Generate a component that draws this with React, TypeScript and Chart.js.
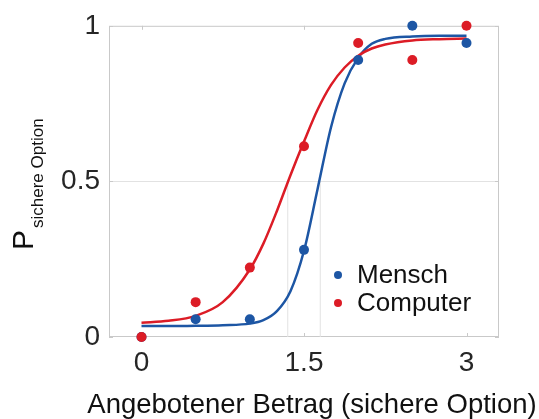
import { useEffect, useRef } from 'react';
import { Chart, registerables } from 'chart.js';

Chart.register(...registerables);

// ---- data ----
const xValues = [0, 0.5, 1, 1.5, 2, 2.5, 3];
const menschValues = [0, 0.057, 0.057, 0.28, 0.89, 1.0, 0.945];
const computerValues = [0, 0.112, 0.223, 0.613, 0.945, 0.89, 1.0];

const fitX = [0, 0.25, 0.5, 0.75, 1, 1.125, 1.25, 1.375, 1.5, 1.625, 1.75, 1.875, 2, 2.125, 2.25, 2.5, 2.75, 3];
const menschFit = [0.035, 0.035, 0.036, 0.038, 0.043, 0.054, 0.083, 0.147, 0.277, 0.475, 0.675, 0.815, 0.897, 0.942, 0.958, 0.966, 0.968, 0.968];
const computerFit = [0.046, 0.052, 0.068, 0.112, 0.217, 0.3, 0.405, 0.52, 0.628, 0.73, 0.81, 0.866, 0.904, 0.927, 0.94, 0.953, 0.957, 0.959];

const menschPSE = 1.65;
const computerPSE = 1.35;

const xTicks = [0, 1.5, 3];
const yTicks = [0, 0.5, 1];

const seriesNames = ['Mensch', 'Computer'];
const xTitle = 'Angebotener Betrag (sichere Option)';
const yTitleMain = 'P';
const yTitleSub = 'sichere Option';

const BLUE = '#1d56a4';
const RED = '#dc1c26';
const BOX = '#c9c9c9';
const GRID = '#e2e2e2';
const FONT = "'Liberation Sans', Arial, Helvetica, sans-serif";

const toXY = (xs: number[], ys: number[]) => xs.map((x, i) => ({ x, y: ys[i] }));

const decorPlugin = {
  id: 'decor',
  beforeDatasetsDraw(chart: any) {
    const { ctx, chartArea: a, scales } = chart;
    ctx.save();
    ctx.strokeStyle = BOX;
    ctx.lineWidth = 1;
    ctx.strokeRect(a.left + 0.5, a.top + 0.5, a.right - a.left - 1, a.bottom - a.top - 1);
    // small inward ticks
    const tl = 4;
    ctx.beginPath();
    xTicks.forEach((v) => {
      const px = Math.round(scales.x.getPixelForValue(v)) + 0.5;
      ctx.moveTo(px, a.bottom);
      ctx.lineTo(px, a.bottom - tl);
      ctx.moveTo(px, a.top);
      ctx.lineTo(px, a.top + tl);
    });
    yTicks.forEach((v) => {
      const py = Math.round(scales.y.getPixelForValue(v)) + 0.5;
      ctx.moveTo(a.left, py);
      ctx.lineTo(a.left + tl, py);
      ctx.moveTo(a.right, py);
      ctx.lineTo(a.right - tl, py);
    });
    ctx.stroke();
    ctx.restore();
  },
  afterDatasetsDraw(chart: any) {
    const { ctx } = chart;
    ctx.save();
    const colors = [BLUE, RED];
    const rows = [275, 303];
    ctx.font = `26px ${FONT}`;
    ctx.textBaseline = 'middle';
    ctx.textAlign = 'left';
    seriesNames.forEach((name, i) => {
      ctx.fillStyle = colors[i];
      ctx.beginPath();
      ctx.arc(338, rows[i], 4, 0, Math.PI * 2);
      ctx.fill();
      ctx.fillStyle = '#111';
      ctx.fillText(name, 357, rows[i] + 1);
    });
    ctx.restore();
  },
  afterDraw(chart: any) {
    const { ctx } = chart;
    ctx.save();
    // x title
    ctx.fillStyle = '#111';
    ctx.font = `27.5px ${FONT}`;
    ctx.textAlign = 'center';
    ctx.textBaseline = 'alphabetic';
    ctx.fillText(xTitle, 312, 413);
    // y title with subscript
    ctx.translate(33, 250);
    ctx.rotate(-Math.PI / 2);
    ctx.textAlign = 'left';
    ctx.font = `30px ${FONT}`;
    ctx.fillText(yTitleMain, 0, 0);
    ctx.font = `17px ${FONT}`;
    ctx.fillText(yTitleSub, 22, 10);
    ctx.restore();
  },
};

export default function App() {
  const ref = useRef<HTMLCanvasElement>(null);
  useEffect(() => {
    const chart = new Chart(ref.current as HTMLCanvasElement, {
      type: 'scatter',
      data: {
        datasets: [
          {
            type: 'line',
            label: 'thrC',
            data: [{ x: computerPSE, y: 0 }, { x: computerPSE, y: 0.5 }],
            borderColor: GRID,
            borderWidth: 1,
            pointRadius: 0,
            order: 10,
          },
          {
            type: 'line',
            label: 'thrM',
            data: [{ x: menschPSE, y: 0 }, { x: menschPSE, y: 0.5 }],
            borderColor: GRID,
            borderWidth: 1,
            pointRadius: 0,
            order: 9,
          },
          {
            type: 'line',
            label: 'Mensch fit',
            data: toXY(fitX, menschFit),
            borderColor: BLUE,
            borderWidth: 2.5,
            pointRadius: 0,
            cubicInterpolationMode: 'monotone',
            order: 6,
          },
          {
            type: 'line',
            label: 'Computer fit',
            data: toXY(fitX, computerFit),
            borderColor: RED,
            borderWidth: 2.5,
            pointRadius: 0,
            cubicInterpolationMode: 'monotone',
            order: 5,
          },
          {
            label: seriesNames[0],
            data: toXY(xValues, menschValues),
            backgroundColor: BLUE,
            borderColor: BLUE,
            pointRadius: 5,
            borderWidth: 0,
            clip: false,
            order: 2,
          },
          {
            label: seriesNames[1],
            data: toXY(xValues, computerValues),
            backgroundColor: RED,
            borderColor: RED,
            pointRadius: 5,
            borderWidth: 0,
            clip: false,
            order: 1,
          },
        ] as any,
      },
      options: {
        animation: false,
        responsive: true,
        maintainAspectRatio: false,
        layout: { padding: { top: 22, right: 40, left: 0, bottom: 0 } },
        plugins: { legend: { display: false }, tooltip: { enabled: false } },
        scales: {
          x: {
            type: 'linear',
            min: -0.3,
            max: 3.3,
            afterBuildTicks: (s: any) => {
              s.ticks = xTicks.map((v) => ({ value: v }));
            },
            afterFit: (s: any) => {
              s.height = 82;
            },
            grid: { display: false, drawTicks: false },
            border: { display: false },
            ticks: {
              font: { size: 28, family: FONT },
              color: '#262626',
              padding: 9,
              maxRotation: 0,
              autoSkip: false,
              callback: (v: any) => String(v),
            },
          },
          y: {
            type: 'linear',
            min: 0,
            max: 1,
            afterBuildTicks: (s: any) => {
              s.ticks = yTicks.map((v) => ({ value: v }));
            },
            afterFit: (s: any) => {
              s.width = 109;
            },
            grid: {
              drawTicks: false,
              color: (c: any) => (c.tick && c.tick.value === 0.5 ? GRID : 'rgba(0,0,0,0)'),
            },
            border: { display: false },
            ticks: {
              font: { size: 28, family: FONT },
              color: '#262626',
              padding: 9,
              autoSkip: false,
              callback: (v: any) => String(v),
            },
          },
        },
      },
      plugins: [decorPlugin],
    } as any);
    return () => chart.destroy();
  }, []);
  return (
    <div style={{ position: 'absolute', left: 0, top: 0, width: 539, height: 419 }}>
      <canvas ref={ref} />
    </div>
  );
}
